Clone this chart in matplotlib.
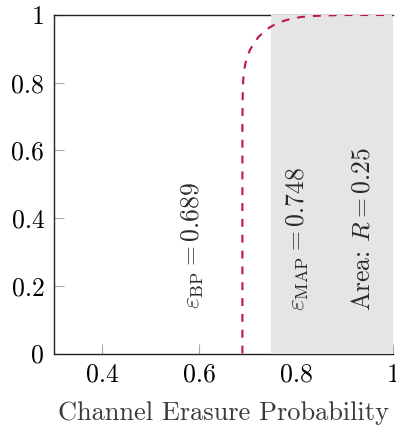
import matplotlib
matplotlib.use("Agg")
import matplotlib.pyplot as plt

plt.rcParams['font.family'] = 'cmr10'
plt.rcParams['mathtext.fontset'] = 'cm'
plt.rcParams['axes.formatter.use_mathtext'] = True

# BP EXIT curve
curve_x = [0.689, 0.689, 0.6895, 0.690, 0.692, 0.695, 0.699, 0.705, 0.713, 0.722,
           0.734, 0.746, 0.760, 0.775, 0.793, 0.810, 0.834, 0.870, 0.905, 1.0]
curve_y = [0.0, 0.68, 0.74, 0.79, 0.833, 0.855, 0.877, 0.898, 0.916, 0.935,
           0.951, 0.964, 0.975, 0.983, 0.990, 0.994, 0.997, 0.999, 1.0, 1.0]

eps_bp = 0.689
eps_map = 0.748
rate = 0.25

xticks = [0.4, 0.6, 0.8, 1.0]
xticklabels = ['0.4', '0.6', '0.8', '1']
yticks = [0, 0.2, 0.4, 0.6, 0.8, 1.0]
yticklabels = ['0', '0.2', '0.4', '0.6', '0.8', '1']

fig = plt.figure(figsize=(3.96, 4.25), dpi=100)
ax = fig.add_axes([54/396, 1 - 353.5/425, (393 - 54)/396, (353.5 - 15)/425])
ax.set_xlim(0.3, 1.0)
ax.set_ylim(0, 1)

ax.fill_between([eps_map, 1.0], [0, 0], [1, 1], color='#e5e5e5', lw=0, zorder=3)
ax.plot(curve_x, curve_y, color='#c01356', lw=1.5, dashes=(3.8, 3.8), zorder=4,
        solid_capstyle='butt', dash_capstyle='butt')

fs = 18.5
tc = '#2a2a2a'
ax.text(0.587, 0.13, r'$\varepsilon_{\mathrm{BP}} = %.3f$' % eps_bp, rotation=90,
        ha='center', va='bottom', fontsize=fs, color=tc, zorder=5)
ax.text(0.804, 0.125, r'$\varepsilon_{\mathrm{MAP}} = %.3f$' % eps_map, rotation=90,
        ha='center', va='bottom', fontsize=fs, color=tc, zorder=5)
ax.text(0.937, 0.125, r'Area: $R = %.2f$' % rate, rotation=90,
        ha='center', va='bottom', fontsize=fs, color=tc, zorder=5)

ax.set_xticks(xticks)
ax.set_xticklabels(xticklabels)
ax.set_yticks(yticks)
ax.set_yticklabels(yticklabels)
ax.tick_params(direction='in', length=7.5, width=0.8, color='#aaaaaa',
               labelsize=fs, pad=7)
for s in ['left', 'bottom', 'top']:
    ax.spines[s].set_color('#222222')
    ax.spines[s].set_linewidth(1.0)
ax.spines['right'].set_visible(False)

ax.set_xlabel('Channel Erasure Probability', fontsize=19, color='#3a3a3a', labelpad=10)

fig.savefig('out.png', dpi=100)
